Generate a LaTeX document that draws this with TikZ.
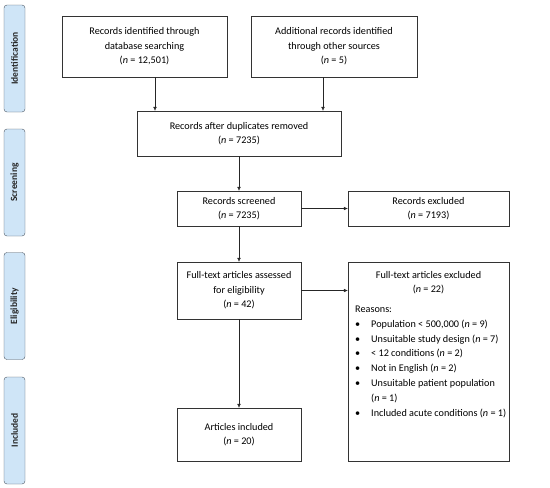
\documentclass[tikz,border=0pt]{standalone}
\usepackage{fontspec}
\setmainfont{Carlito}
\usetikzlibrary{arrows.meta}
\definecolor{phasefill}{HTML}{CFE5F7}
\definecolor{phaseline}{HTML}{4A5561}

\begin{document}
\begin{tikzpicture}[x=1pt,y=-1pt,
  every node/.style={font=\fontsize{10.2pt}{14.5pt}\selectfont},
  recbox/.style={draw=black!80,thin,align=center,inner sep=2pt},
  phase/.style={draw=phaseline,fill=phasefill,rounded corners=3pt,rotate=90,minimum width=107pt,minimum height=21pt,inner sep=0pt,font=\fontsize{9.5pt}{10pt}\selectfont\bfseries,text=black!85},
  arr/.style={-{Latex[length=4pt,width=3.6pt]},thin,black!85}]
\useasboundingbox (0,0) rectangle (550,488);
% phase labels on the left
\foreach \y/\t/\i in {58.5/Identification/1,182.5/Screening/2,306/Eligibility/3,430.5/Included/4}
  {\node[phase] (phase\i) at (14.5,\y) {\t};}
% boxes
\node[recbox,minimum width=165pt,minimum height=61pt] (dbsearch) at (144.5,46.5) {Records identified through\\database searching\\(\textit{n} = 12,501)};
\node[recbox,minimum width=166pt,minimum height=61pt] (othersrc) at (334,46.5) {Additional records identified\\through other sources\\(\textit{n} = 5)};
\node[recbox,minimum width=204pt,minimum height=45pt] (dedup) at (239,133.5) {Records after duplicates removed\\(\textit{n} = 7235)};
\node[recbox,minimum width=124pt,minimum height=35pt] (screened) at (239,208.5) {Records screened\\(\textit{n} = 7235)};
\node[recbox,minimum width=161pt,minimum height=35pt] (excluded) at (428.5,208.5) {Records excluded\\(\textit{n} = 7193)};
\node[recbox,minimum width=124pt,minimum height=57pt] (fulltext) at (239,290.5) {Full-text articles assessed\\for eligibility\\(\textit{n} = 42)};
\node[recbox,minimum width=161pt,minimum height=199pt] (ftexcl) at (428.5,361.5) {};
\node[recbox,minimum width=124pt,minimum height=53pt] (included) at (239,434.5) {Articles included\\(\textit{n} = 20)};
% text of the excluded full-text box
\node[align=center,anchor=north,inner sep=0pt] (ftexcltitle) at (428.5,271) {Full-text articles excluded\\(\textit{n} = 22)};
\node[anchor=north west,inner sep=0pt,font=\fontsize{10.2pt}{14.8pt}\selectfont] (reasons) at (355,302) {%
  \begin{tabular}{@{}p{16pt}@{}l@{}}
  \multicolumn{2}{@{}l@{}}{Reasons:}\\
  \textbullet & Population < 500,000 (\textit{n} = 9)\\
  \textbullet & Unsuitable study design (\textit{n} = 7)\\
  \textbullet & < 12 conditions (\textit{n} = 2)\\
  \textbullet & Not in English (\textit{n} = 2)\\
  \textbullet & Unsuitable patient population\\
              & (\textit{n} = 1)\\
  \textbullet & Included acute conditions (\textit{n} = 1)
  \end{tabular}};
% connectors
\draw[arr] ([xshift=10.5pt]dbsearch.south) -- ([xshift=10.5pt]dbsearch.south |- dedup.north);
\draw[arr] ([xshift=-11pt]othersrc.south) -- ([xshift=-11pt]othersrc.south |- dedup.north);
\draw[arr] (dedup) -- (screened);
\draw[arr] (screened) -- (excluded);
\draw[arr] (screened) -- (fulltext);
\draw[arr] (fulltext.east) -- (fulltext.east -| ftexcl.west);
\draw[arr] (fulltext) -- (included);
\end{tikzpicture}
\end{document}
